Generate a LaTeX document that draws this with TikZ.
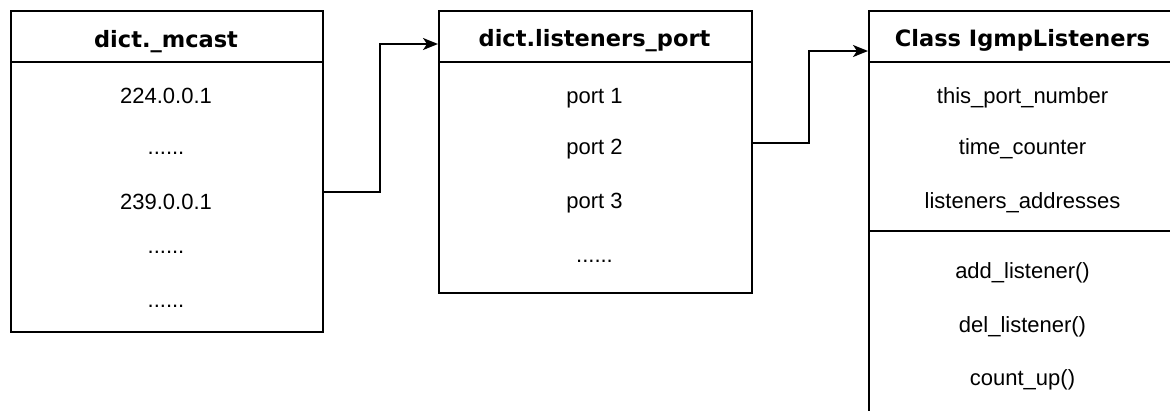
\documentclass[tikz,border=0pt]{standalone}
\usepackage{fontspec}
\setmainfont{Liberation Sans}
\newfontfamily\headfont{DejaVu Sans}
\usetikzlibrary{arrows.meta}
\tikzset{
  box/.style={draw=black, line width=2pt, fill=white, rectangle, inner sep=0pt, anchor=north west},
  sepline/.style={draw=black, line width=2pt},
  head/.style={font=\headfont\bfseries\fontsize{22.5}{27}\selectfont, anchor=base, inner sep=0pt},
  item/.style={font=\fontsize{22}{26}\selectfont, anchor=base, inner sep=0pt},
  conn/.style={draw=black, line width=2pt, -{Stealth[length=15pt,width=12pt,inset=4pt]}}
}
\begin{document}
\begin{tikzpicture}[x=1pt,y=-1pt]
\useasboundingbox (0,0) rectangle (1170,410);
\clip (0,0) rectangle (1170,410);
% box 1
\node[box, minimum width=312pt, minimum height=321pt] (b1) at (10,10) {};
\draw[sepline] (10,62) -- (322,62);
\node[head] (h1) at (166,47) {dict.\_mcast};
\node[item] (i11) at (166,103) {224.0.0.1};
\node[item] (i12) at (166,154) {......};
\node[item] (i13) at (166,209) {239.0.0.1};
\node[item] (i14) at (166,253) {......};
\node[item] (i15) at (166,307) {......};
% box 2
\node[box, minimum width=313pt, minimum height=282pt] (b2) at (438,10) {};
\draw[sepline] (438,62) -- (751,62);
\node[head] (h2) at (594.5,46.5) {dict.listeners\_port};
\node[item] (i21) at (594.5,103) {port 1};
\node[item] (i22) at (594.5,154) {port 2};
\node[item] (i23) at (594.5,208) {port 3};
\node[item] (i24) at (594.5,262) {......};
% box 3
\node[box, minimum width=309pt, minimum height=420pt] (b3) at (868,10) {};
\draw[sepline] (868,62) -- (1177,62);
\draw[sepline] (868,231) -- (1177,231);
\node[head] (h3) at (1022.5,46.5) {Class IgmpListeners};
\node[item] (i31) at (1022.5,103) {this\_port\_number};
\node[item] (i32) at (1022.5,154) {time\_counter};
\node[item] (i33) at (1022.5,208) {listeners\_addresses};
\node[item] (i34) at (1022.5,278) {add\_listener()};
\node[item] (i35) at (1022.5,332) {del\_listener()};
\node[item] (i36) at (1022.5,385) {count\_up()};
% connectors
\coordinate (s1) at (322,192);
\coordinate (e1) at (438,44);
\coordinate (s2) at (751,143);
\coordinate (e2) at (868,51);
\draw[conn] (s1) -- (380,192) -- (380,44) -- (e1);
\draw[conn] (s2) -- (809,143) -- (809,51) -- (e2);
\end{tikzpicture}
\end{document}
